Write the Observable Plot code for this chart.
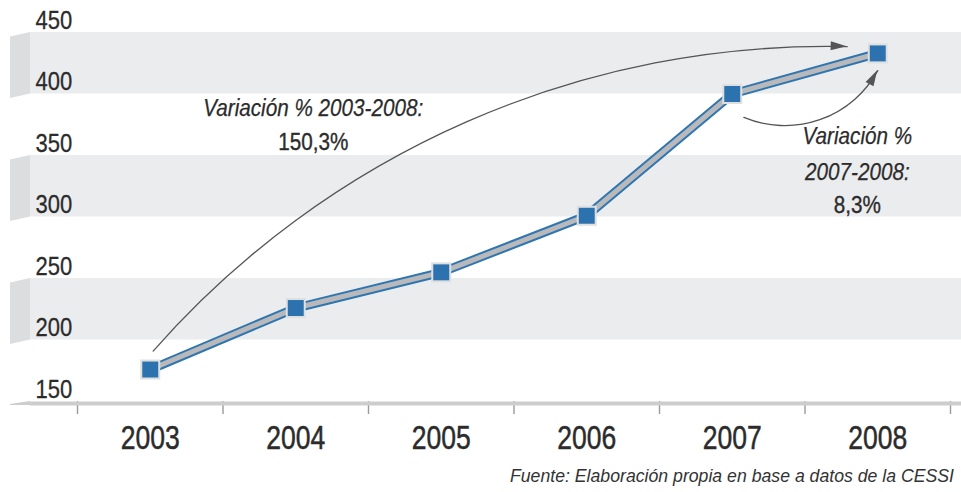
<!DOCTYPE html>
<html>
<head>
<meta charset="utf-8">
<script src="https://cdn.jsdelivr.net/npm/d3@7"></script>
<script src="https://cdn.jsdelivr.net/npm/@observablehq/plot@0.6"></script>
<style>
  html, body { margin: 0; padding: 0; background: #fff; overflow: hidden; }
  #chart svg { display: block; }
  .caption {
    height: 30px; line-height: 30px; padding-left: 510px; white-space: nowrap; overflow: hidden;
    color: #333;
  }
  .caption span {
    display: inline-block; transform: scaleX(0.93); transform-origin: 0 50%;
    font: italic 19px "Liberation Sans", Arial, sans-serif;
  }
</style>
</head>
<body>
<div id="chart"></div>
<script>
// Yearly series
const years = [2003, 2004, 2005, 2006, 2007, 2008];
const values = [176, 226, 255, 301, 400, 433];

// Value axis labels and shaded bands
const yTicks = [150, 200, 250, 300, 350, 400, 450];
const bandLow = [400, 300, 200];
const bandHigh = [450, 350, 250];

// Annotations (anchored in year / value units)
const noteLines = ["Variación % 2003-2008:", "150,3%", "Variación %", "2007-2008:", "8,3%"];
const noteX = [2004.12, 2004.12, 2007.86, 2007.86, 2007.86];
const noteY = [388, 360.5, 365.5, 336.5, 309.5];
const noteItalic = [true, false, true, true, false];

// Curved arrows: start and end in year / value units, bend in degrees
const arrowX1 = [2003.02, 2007.08];
const arrowY1 = [191, 381];
const arrowX2 = [2007.79, 2008.0];
const arrowY2 = [438.5, 419];
const arrowBend = [25, -42];

const captionText = "Fuente: Elaboración propia en base a datos de la CESSI";

const FONT = '"Liberation Sans", Arial, sans-serif';
const INK = "#2b2b2b";

const series = years.map((year, i) => ({year, value: values[i]}));
const bands = bandLow.map((lo, i) => ({lo, hi: bandHigh[i]}));
const yearBounds = years.map(y => y - 0.5).concat([years[years.length - 1] + 0.5]);
const notes = noteLines.map((text, i) => ({text, x: noteX[i], y: noteY[i], italic: noteItalic[i]}));
const arrows = arrowX1.map((x1, i) => ({x1, y1: arrowY1[i], x2: arrowX2[i], y2: arrowY2[i], bend: arrowBend[i]}));

// Darker slanted faces on the left of each band and of the base line
function sideFaces(index, scales, values, dims) {
  const g = d3.create("svg:g");
  const xr = dims.marginLeft, xl = xr - 20, skew = 4.5;
  for (const b of bands) {
    const yt = scales.y(b.hi), yb = scales.y(b.lo);
    g.append("path")
      .attr("d", `M${xl},${yt + skew}L${xr},${yt}L${xr},${yb}L${xl},${yb + skew}Z`)
      .attr("fill", "#dcdddf");
  }
  const y0 = scales.y(yTicks[0]);
  g.append("path")
    .attr("d", `M${xl},${y0 + 3}L${xr},${y0}L${xr},${y0 + 4}L${xl},${y0 + 4}Z`)
    .attr("fill", "#cdcdcd");
  return g.node();
}

// Filled heads at the end of each curved arrow
function arrowHeads(index, scales) {
  const g = d3.create("svg:g");
  for (const a of arrows) {
    const x1 = scales.x(a.x1), y1 = scales.y(a.y1), x2 = scales.x(a.x2), y2 = scales.y(a.y2);
    const t = Math.atan2(y2 - y1, x2 - x1) + a.bend * Math.PI / 180;
    const L = 16, W = 4.5;
    const bx = x2 - L * Math.cos(t), by = y2 - L * Math.sin(t);
    const px = -Math.sin(t) * W, py = Math.cos(t) * W;
    g.append("path")
      .attr("d", `M${x2},${y2}L${bx + px},${by + py}L${bx - px},${by - py}Z`)
      .attr("fill", "#555");
  }
  return g.node();
}

const chart = Plot.plot({
  width: 961,
  height: 462,
  marginTop: 32,
  marginBottom: 61,
  marginLeft: 30,
  marginRight: 0,
  style: {fontFamily: FONT, background: "#fff", color: INK},
  x: {type: "linear", domain: [2002.5, 2008.5], range: [77, 950], axis: null},
  y: {domain: [150, 450], axis: null},
  marks: [
    Plot.rect(bands, {y1: "lo", y2: "hi", fill: "#ebecee"}),
    sideFaces,
    Plot.axisX({ticks: yearBounds, tickSize: 13, tickFormat: () => "", stroke: "#9b9b9b", strokeWidth: 1.4}),
    Plot.ruleY([yTicks[0]], {stroke: "#cdcdcd", strokeWidth: 4, dy: 2}),
    Plot.text(yTicks, {
      y: d => d, text: d => String(d), frameAnchor: "left", dx: 5, dy: -4,
      textAnchor: "start", lineAnchor: "bottom", fontSize: 26.5, fill: INK,
      stroke: INK, strokeWidth: 0.3
    }),
    Plot.text(years, {
      x: d => d, text: d => String(d), frameAnchor: "bottom", dy: 23,
      lineAnchor: "top", fontSize: 34, fill: INK, stroke: INK, strokeWidth: 0.5
    }),
    Plot.arrow(arrows.slice(0, 1), {
      x1: "x1", y1: "y1", x2: "x2", y2: "y2", bend: arrowBend[0],
      headLength: 0, stroke: "#555", strokeWidth: 1.3
    }),
    Plot.arrow(arrows.slice(1), {
      x1: "x1", y1: "y1", x2: "x2", y2: "y2", bend: arrowBend[1],
      headLength: 0, stroke: "#555", strokeWidth: 1.3
    }),
    arrowHeads,
    Plot.line(series, {x: "year", y: "value", stroke: "#2f76b1", strokeWidth: 9, strokeLinejoin: "miter"}),
    Plot.line(series, {x: "year", y: "value", stroke: "#b9b9bb", strokeWidth: 5, strokeLinejoin: "miter"}),
    Plot.dot(series, {x: "year", y: "value", symbol: "square", r: 11.3, fill: "#dedfe0"}),
    Plot.dot(series, {x: "year", y: "value", symbol: "square", r: 9, fill: "#2c72ae"}),
    Plot.text(notes.filter(d => d.italic), {
      x: "x", y: "y", text: "text", fontSize: 23.5, fontStyle: "italic", fill: INK,
      stroke: INK, strokeWidth: 0.25
    }),
    Plot.text(notes.filter(d => !d.italic), {
      x: "x", y: "y", text: "text", fontSize: 23.5, fill: INK, stroke: INK, strokeWidth: 0.35
    })
  ]
});

const root = document.getElementById("chart");
root.appendChild(chart);
const cap = document.createElement("div");
cap.className = "caption";
const span = document.createElement("span");
span.textContent = captionText;
cap.appendChild(span);
root.appendChild(cap);

// Condensed lettering: compress each label's glyphs horizontally, keeping its anchor
d3.select(chart).selectAll("text").each(function() {
  if (!this.textContent) return;
  const fs = +(this.getAttribute("font-size") || this.parentNode.getAttribute("font-size") || 0);
  const s = fs >= 30 ? 0.78 : fs >= 25 ? 0.83 : 0.88;
  const len = this.getComputedTextLength();
  this.setAttribute("textLength", (len * s).toFixed(2));
  this.setAttribute("lengthAdjust", "spacingAndGlyphs");
});
</script>
</body>
</html>
